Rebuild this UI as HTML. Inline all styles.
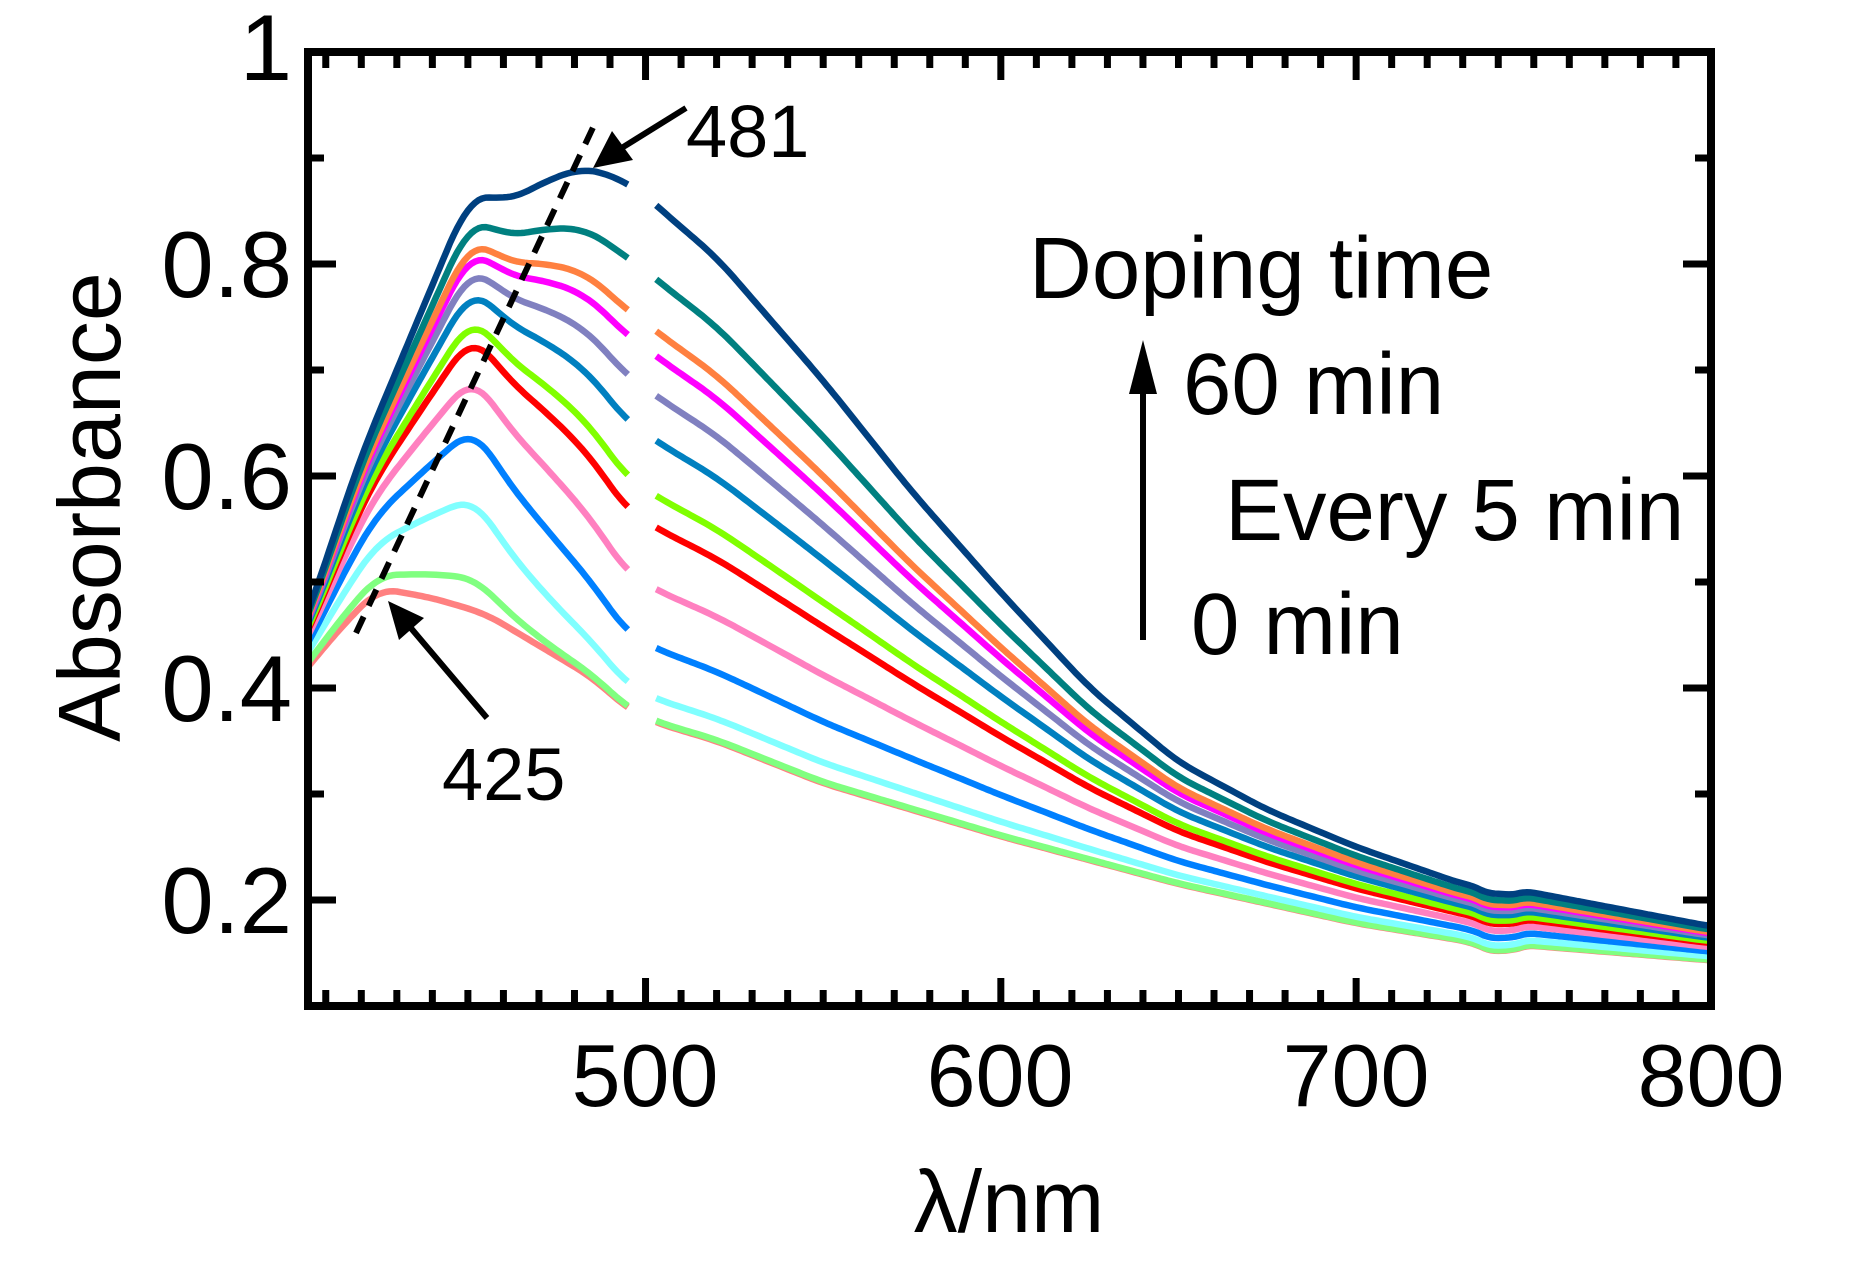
<!DOCTYPE html>
<html><head><meta charset="utf-8">
<style>
html,body{margin:0;padding:0;background:#fff;}
svg{display:block;font-family:"Liberation Sans",Arial,sans-serif;}
</style></head>
<body>
<svg id="s" width="1873" height="1266" viewBox="0 0 1873 1266" xmlns="http://www.w3.org/2000/svg">
<rect width="1873" height="1266" fill="#fff"/>
<g id="curves" fill="none" stroke-width="6.5" stroke-linejoin="round" stroke-linecap="butt"></g>
<g id="ticks" stroke="#000" stroke-width="7"></g>
<rect x="308" y="52" width="1403" height="954" fill="none" stroke="#000" stroke-width="8"/>
<line x1="356" y1="633" x2="597" y2="119" stroke="#000" stroke-width="6" stroke-dasharray="18,12"/>
<line x1="686" y1="108" x2="620" y2="149" stroke="#000" stroke-width="6"/>
<polygon points="593,168 612,131 633,160" fill="#000"/>
<text x="686" y="157" font-size="74">481</text>
<line x1="487" y1="718" x2="410" y2="627" stroke="#000" stroke-width="6"/>
<polygon points="388,601 424,618 399,640" fill="#000"/>
<text x="442" y="800" font-size="74">425</text>
<text x="1029" y="298" font-size="87">Doping time</text>
<text x="1183" y="414" font-size="87">60 min</text>
<text x="1225" y="540" font-size="87">Every 5 min</text>
<text x="1191" y="654" font-size="87">0 min</text>
<line x1="1143" y1="640" x2="1143" y2="380" stroke="#000" stroke-width="6"/>
<polygon points="1143,340 1129,394 1157,394" fill="#000"/>
<g font-size="94" text-anchor="end">
<text x="292" y="80">1</text>
<text x="292" y="297">0.8</text>
<text x="292" y="509">0.6</text>
<text x="292" y="721">0.4</text>
<text x="292" y="933">0.2</text>
</g>
<g font-size="88" text-anchor="middle">
<text x="645" y="1106">500</text>
<text x="1000" y="1106">600</text>
<text x="1356" y="1106">700</text>
<text x="1711" y="1106">800</text>
</g>
<text x="1009" y="1232" font-size="88" text-anchor="middle">λ/nm</text>
<text transform="translate(120,507) rotate(-90)" font-size="88" text-anchor="middle">Absorbance</text>
</svg>
<script>
(function(){
var NS="http://www.w3.org/2000/svg";
function X(l){return 308+(l-405)*3.553;}
function Y(v){return 52+(1-v)*1060;}
var tk=document.getElementById('ticks');
function ln(x1,y1,x2,y2){var e=document.createElementNS(NS,'line');e.setAttribute('x1',x1);e.setAttribute('y1',y1);e.setAttribute('x2',x2);e.setAttribute('y2',y2);tk.appendChild(e);}
for(var l=410;l<800;l+=10){var x=X(l);var L=(l%100==0)?28:16;ln(x,1006,x,1006-L);ln(x,52,x,52+L);}
for(var k=2;k<=9;k++){var v=k/10,y=Y(v);var L=(k%2==0)?28:16;ln(308,y,308+L,y);ln(1711,y,1711-L,y);}
var base=[[395,.38],[405,.42],[415,.46],[425,.494],[440,.485],[455,.47],[470,.44],[485,.41],[495,.38],[500,.372],[503,.367],[520,.35],[550,.31],[600,.26],[650,.215],[700,.178],[733,.16],[738,.152],[741,.145],[745,.158],[800,.143],[810,.141]];
var top=[[395,.39],[405,.47],[420,.62],[435,.74],[450,.86],[455,.865],[462,.86],[470,.875],[481,.89],[490,.885],[495,.875],[500,.865],[503,.855],[520,.806],[550,.69],[575,.585],[600,.49],[625,.40],[650,.33],[675,.285],[700,.25],[730,.215],[737,.21],[740,.198],[745,.21],[800,.175],[810,.172]];
function interp(a,l){for(var i=0;i<a.length-1;i++){if(l>=a[i][0]&&l<=a[i+1][0]){var t=(l-a[i][0])/(a[i+1][0]-a[i][0]);return a[i][1]+t*(a[i+1][1]-a[i][1]);}}return a[a.length-1][1];}
var cols=["#ff8080","#80ff80","#80ffff","#0080ff","#ff80c0","#ff0000","#80ff00","#0080c0","#8080c0","#ff00ff","#ff8040","#008080","#004080"];
var amp=[0,.04,.19,.35,.48,.59,.64,.72,.78,.83,.86,.92,1];
function pexp(l){if(l<=452)return 0.8;if(l<=495)return 0.8+(l-452)/43*1.05;if(l<=520)return 1.85;return 1.85-(l-520)/280*0.55;}
function val(a,l){var b=interp(base,l),t=interp(top,l);var ae=a>0?Math.pow(a,pexp(l)):0;return b+ae*(t-b);}
var g=document.getElementById('curves');
for(var i=0;i<13;i++){
 var a=amp[i];
 [[405,495],[503,800]].forEach(function(seg){
  var W=5,d="";
  for(var l=seg[0];l<=seg[1];l+=1){
   var s=0,n=0;for(var k=l-W;k<=l+W;k++){s+=val(a,k);n++;}
   var v=s/n;
   d+=(d?"L":"M")+X(l).toFixed(1)+","+Y(v).toFixed(1);
  }
  var p=document.createElementNS(NS,'path');p.setAttribute('d',d);p.setAttribute('stroke',cols[i]);g.appendChild(p);
 });
}
})();
</script>
</body></html>
